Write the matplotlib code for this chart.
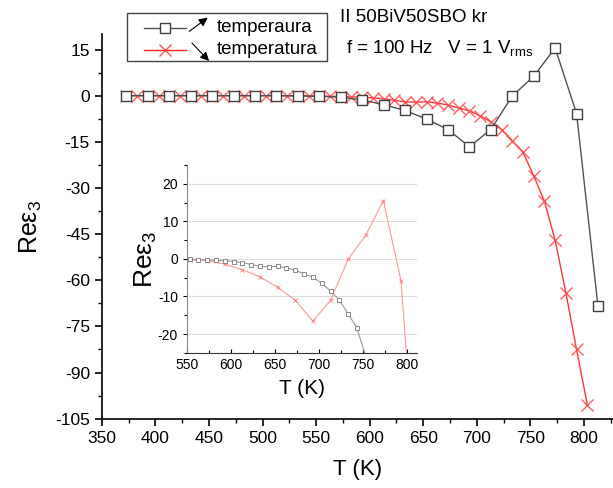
import matplotlib
matplotlib.use("Agg")
import matplotlib.pyplot as plt
from matplotlib.lines import Line2D
from matplotlib.patches import Rectangle
from matplotlib.ticker import MultipleLocator

plt.rcParams["font.family"] = ["Liberation Sans", "DejaVu Sans"]
plt.rcParams["mathtext.fontset"] = "custom"
plt.rcParams["mathtext.rm"] = "Liberation Sans"
plt.rcParams["axes.unicode_minus"] = False

# temperaura (black squares, every 20 K)
t_sq = [373, 393, 413, 433, 453, 473, 493, 513, 533, 553, 573, 593,
        613, 633, 653, 673, 693, 713, 733, 753, 773, 793, 813]
eps_sq = [0, 0, 0, 0, 0, 0, 0, 0, -0.1, -0.2, -0.5, -1.4,
          -2.9, -4.8, -7.6, -11.0, -16.6, -11.0, -0.1, 6.3, 15.5, -5.8, -68.5]

# temperatura (red crosses, every 10 K)
t_x = [373, 383, 393, 403, 413, 423, 433, 443, 453, 463, 473, 483, 493, 503, 513,
       523, 533, 543, 553, 563, 573, 583, 593, 603, 613, 623, 633, 643, 653, 663,
       673, 683, 693, 703, 713, 723, 733, 743, 753, 763, 773, 783, 793, 803]
eps_x = [0, 0, 0, 0, 0, 0, 0, 0, 0, 0, 0, 0, 0, 0, 0,
         0, 0, -0.05, -0.1, -0.2, -0.3, -0.4, -0.5, -0.7, -1.0, -1.5, -2.0, -2.1, -2.0, -2.4,
         -3.0, -4.0, -4.9, -6.5, -8.5, -11.0, -14.6, -18.4, -26.0, -34.3, -47.0, -64.0, -82.5, -100.4]

fig = plt.figure(figsize=(6.13, 4.88), dpi=100)

ax = fig.add_axes([0.166, 0.142, 0.834, 0.788])
ax.plot(t_sq, eps_sq, color="#505050", lw=1.0, marker="s", ms=6.5,
        mfc="white", mec="#404040", mew=1.0, zorder=3)
ax.plot(t_x, eps_x, color="#ff2020", lw=1.0, marker="x", ms=8,
        mec="#ff5050", mew=1.0, alpha=0.9, zorder=2)
ax.set_xlim(350, 827)
ax.set_ylim(-105, 20)
ax.xaxis.set_major_locator(MultipleLocator(50))
ax.xaxis.set_minor_locator(MultipleLocator(25))
ax.yaxis.set_major_locator(MultipleLocator(15))
ax.yaxis.set_minor_locator(MultipleLocator(7.5))
ax.set_yticks(range(-105, 16, 15))
ax.spines["top"].set_visible(False)
ax.spines["right"].set_visible(False)
for s in ("left", "bottom"):
    ax.spines[s].set_linewidth(1.2)
ax.tick_params(which="major", direction="out", length=5, width=1.2, labelsize=12.5)
ax.tick_params(which="minor", direction="out", length=3, width=1.0)
ax.set_xlabel("T (K)", fontsize=16, labelpad=10)
ax.set_ylabel("Re\u03b5$_\\mathregular{3}$", fontsize=18, labelpad=8)

# inset
ins = fig.add_axes([0.305, 0.277, 0.375, 0.385])
ins.plot(t_sq, eps_sq, color="#ff8080", lw=0.8, marker="x", ms=3.5,
         mec="#ff6060", mew=0.6, alpha=0.8)
ins.plot(t_x, eps_x, color="#999999", lw=0.8, marker="s", ms=3,
         mfc="white", mec="#777777", mew=0.6)
ins.set_xlim(550, 811)
ins.set_ylim(-25, 25)
ins.xaxis.set_major_locator(MultipleLocator(50))
ins.xaxis.set_minor_locator(MultipleLocator(25))
ins.yaxis.set_major_locator(MultipleLocator(10))
ins.yaxis.set_minor_locator(MultipleLocator(5))
ins.grid(axis="y", color="#dddddd", lw=0.8)
ins.set_axisbelow(True)
ins.spines["top"].set_visible(False)
ins.spines["right"].set_visible(False)
ins.spines["left"].set_color("#888888")
ins.spines["bottom"].set_color("#333333")
ins.tick_params(which="both", direction="in", labelsize=10, length=3, width=0.8)
ins.tick_params(axis="y", which="both", direction="out")
ins.tick_params(which="minor", length=2)
ins.set_xlabel("T (K)", fontsize=15, labelpad=5)
ins.set_ylabel("Re\u03b5$_\\mathregular{3}$", fontsize=19, labelpad=-1)

# legend box drawn by hand with the arrows
fig.add_artist(Rectangle((127 / 613, 1 - 61 / 488), 200 / 613, 48 / 488,
                         transform=fig.transFigure, fill=False, ec="#444444", lw=1.0))
fig.add_artist(Line2D([144 / 613, 186 / 613], [1 - 28 / 488] * 2, color="#505050", lw=1.0,
                      transform=fig.transFigure))
fig.add_artist(Line2D([165 / 613], [1 - 28 / 488], color="#505050", marker="s", ms=6.5,
                      mfc="white", mec="#404040", lw=0, transform=fig.transFigure))
fig.add_artist(Line2D([144 / 613, 186 / 613], [1 - 50 / 488] * 2, color="#ff2020", lw=1.0,
                      transform=fig.transFigure))
fig.add_artist(Line2D([165 / 613], [1 - 50 / 488], color="#ff5050", marker="x", ms=8,
                      lw=0, transform=fig.transFigure))
fig.text(217 / 613, 1 - 28 / 488, "temperaura", fontsize=13.5, va="center")
fig.text(217 / 613, 1 - 50 / 488, "temperatura", fontsize=13.5, va="center")
ax.annotate("", xy=(210 / 613, 1 - 16 / 488), xytext=(187 / 613, 1 - 33 / 488),
            xycoords="figure fraction", textcoords="figure fraction",
            arrowprops=dict(arrowstyle="-|>", color="black", lw=0.8, mutation_scale=13))
ax.annotate("", xy=(211 / 613, 1 - 63 / 488), xytext=(190 / 613, 1 - 41 / 488),
            xycoords="figure fraction", textcoords="figure fraction",
            arrowprops=dict(arrowstyle="-|>", color="black", lw=0.8, mutation_scale=13))

fig.text(340 / 613, 1 - 18 / 488, "II 50BiV50SBO kr", fontsize=13.5, va="center")
fig.text(346 / 613, 1 - 49 / 488, "f = 100 Hz   V = 1 V$_\\mathregular{rms}$", fontsize=13.5,
         va="center")

fig.savefig("out.png", dpi=100)
